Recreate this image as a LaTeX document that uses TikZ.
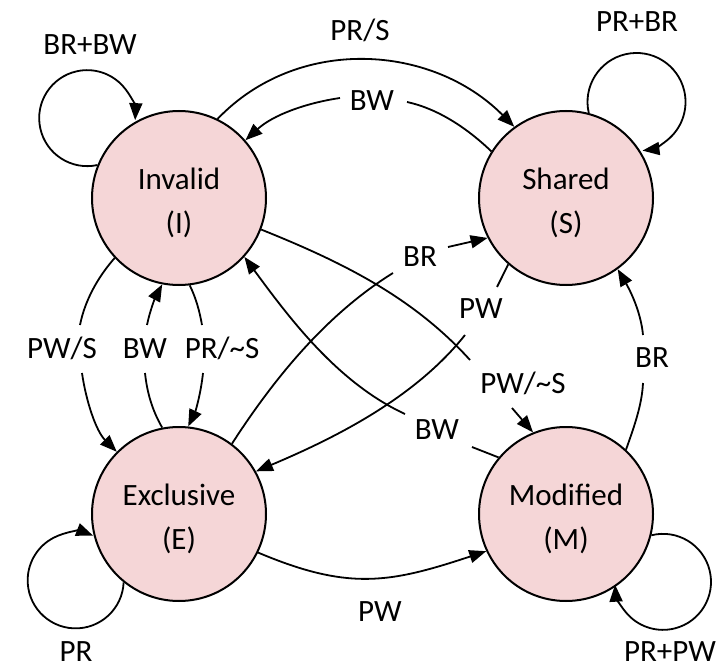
\documentclass[tikz,border=0pt]{standalone}
\usepackage{fontspec}
\setmainfont{Carlito}
\usetikzlibrary{arrows.meta}
\definecolor{statefill}{RGB}{245,214,215}
\newcommand{\toppad}{\rule{0pt}{15.6pt}}
\begin{document}
\begin{tikzpicture}[x=0.5pt,y=-0.5pt,
  state/.style={circle, draw=black, line width=1pt, fill=statefill, minimum size=87pt, inner sep=0pt, align=center, font=\fontsize{15.5}{22}\selectfont},
  lbl/.style={inner sep=0pt, text height=9.98pt, text depth=0pt, font=\fontsize{15.5}{18}\selectfont},
  conn/.style={line width=0.9pt, draw=black},
  arr/.style={conn, -{Triangle[length=8.5pt,width=6.5pt]}}]
\useasboundingbox (0,0) rectangle (728,668);
% states
\node[state] (I) at (179,198) {\toppad Invalid\\(I)};
\node[state] (S) at (566,198) {\toppad Shared\\(S)};
\node[state] (E) at (179,514) {\toppad Exclusive\\(E)};
\node[state] (M) at (566,514) {\toppad Modified\\(M)};
% labels
\node[lbl] (lI) at (90,45) {BR+BW};
\node[lbl] (lPRS) at (360,31) {PR/S};
\node[lbl] (lBWt) at (372,101) {BW};
\node[lbl] (lS) at (637,22) {PR+BR};
\node[lbl] (lPWS) at (62,349) {PW/S};
\node[lbl] (lBWm) at (145,349) {BW};
\node[lbl] (lPRnS) at (222,349) {PR/\textasciitilde S};
\node[lbl] (lBRes) at (420,257) {BR};
\node[lbl] (lPWse) at (481,309) {PW};
\node[lbl] (lPWnS) at (523,384) {PW/\textasciitilde S};
\node[lbl] (lBWmi) at (437,430) {BW};
\node[lbl] (lBRms) at (652,358) {BR};
\node[lbl] (lPWem) at (380,612) {PW};
\node[lbl] (lE) at (76,652) {PR};
\node[lbl] (lM) at (670,652) {PR+PW};
% break points
\coordinate (bwtR) at (407,102);
\coordinate (bwtL) at (340,98);
\coordinate (pwsA) at (80,325);
\coordinate (pwsB) at (82,373);
\coordinate (bwmA) at (145,373);
\coordinate (bwmB) at (147,325);
\coordinate (prnsA) at (202,325);
\coordinate (prnsB) at (203,373);
\coordinate (imA) at (470,360);
\coordinate (imB) at (512,408);
\coordinate (miA) at (472,447);
\coordinate (miB) at (405,414);
\coordinate (esA) at (393,273);
\coordinate (esB) at (448,247);
\coordinate (seA) at (497,287);
\coordinate (seB) at (465,335);
\coordinate (msA) at (643,383);
\coordinate (msB) at (643,335);
% self loops
\draw[arr] (I.158.7) arc[start angle=77.7, end angle=362.4, radius=48];
\draw[arr] (S.75.5) arc[start angle=167, end angle=443, radius=49];
\draw[arr] (E.231.5) arc[start angle=2.4, end angle=291.4, radius=48];
\draw[arr] (M.-14.5) arc[start angle=256, end angle=536.6, radius=48];
% I -> S  PR/S
\draw[arr] (I.64.6) .. controls (298,35) and (432,44) .. (S.126.7);
% S -> I  BW
\draw[conn] (S.148.1) .. controls (468,129) and (439,109) .. (bwtR);
\draw[arr] (bwtL) .. controls (306,103) and (273,115) .. (I.41.9);
% I -> E  PW/S
\draw[conn] (I.223.2) .. controls (98,277) and (85,300) .. (pwsA);
\draw[arr] (pwsB) .. controls (86,401) and (96,431) .. (E.135.9);
% E -> I  BW
\draw[conn] (E.101.7) .. controls (152,410) and (147,392) .. (bwmA);
\draw[arr] (bwmB) .. controls (150,310) and (156,296) .. (I.259.3);
% I -> E  PR/~S
\draw[conn] (I.277.2) .. controls (196,298) and (199.5,311) .. (prnsA);
\draw[arr] (prnsB) .. controls (201,392) and (196,410) .. (E.84.1);
% I -> M  PW/~S
\draw[conn] (I.-21.4) .. controls (342,262) and (413,297) .. (imA);
\draw[arr] (imB) -- (M.112.4);
% M -> I  BW
\draw[conn] (M.140.5) -- (miA);
\draw[arr] (miB) .. controls (338,383) and (290,319) .. (I.-42.8);
% E -> S  BR
\draw[conn] (E.53.6) .. controls (275,377) and (327,314) .. (esA);
\draw[arr] (esB) -- (S.207.1);
% S -> E  PW
\draw[conn] (S.229.1) -- (seA);
\draw[arr] (seB) .. controls (415,398) and (335,438) .. (E.29.6);
% M -> S  BR
\draw[conn] (M.47.3) .. controls (634,427) and (642,405) .. (msA);
\draw[arr] (msB) .. controls (641,313) and (631,292) .. (S.-54.2);
% E -> M  PW
\draw[arr] (E.-26.6) .. controls (349,591) and (390,583) .. (M.205.7);
\end{tikzpicture}
\end{document}
